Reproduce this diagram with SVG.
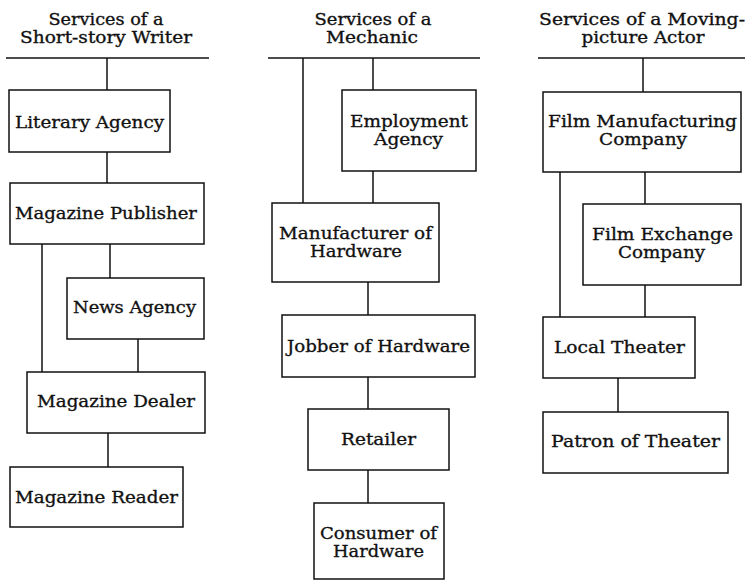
<svg xmlns="http://www.w3.org/2000/svg" width="746" height="581" viewBox="0 0 746 581">
  <style>
    .bg { fill: #ffffff; }
    .box { fill: #ffffff; stroke: #111111; stroke-width: 1.5; }
    .rule { stroke: #111111; stroke-width: 1.5; fill: none; }
    .wire { stroke: #111111; stroke-width: 1.5; fill: none; }
    text { font-family: "DejaVu Serif", "Liberation Serif", serif; fill: #111111; stroke: #111111; stroke-width: 0.35; text-anchor: middle; }
    .hd { font-size: 17px; }
    .lb { font-size: 17.5px; }
  </style>
  <rect class="bg" x="0" y="0" width="746" height="581"/>

  <!-- column headings with their rules -->
  <g id="header-writer">
    <text class="hd" x="106" y="25" textLength="115" lengthAdjust="spacingAndGlyphs">Services of a</text>
    <text class="hd" x="106" y="43" textLength="172" lengthAdjust="spacingAndGlyphs">Short-story Writer</text>
    <line class="rule" x1="6" y1="58" x2="209" y2="58"/>
  </g>
  <g id="header-mechanic">
    <text class="hd" x="373" y="25" textLength="117" lengthAdjust="spacingAndGlyphs">Services of a</text>
    <text class="hd" x="372" y="43" textLength="92" lengthAdjust="spacingAndGlyphs">Mechanic</text>
    <line class="rule" x1="268" y1="58" x2="480" y2="58"/>
  </g>
  <g id="header-actor">
    <text class="hd" x="642" y="25" textLength="206" lengthAdjust="spacingAndGlyphs">Services of a Moving-</text>
    <text class="hd" x="643" y="43" textLength="123" lengthAdjust="spacingAndGlyphs">picture Actor</text>
    <line class="rule" x1="538" y1="58" x2="745" y2="58"/>
  </g>

  <!-- connectors -->
  <g id="connectors">
    <!-- writer column -->
    <line class="wire" x1="107" y1="58" x2="107" y2="90"/>
    <line class="wire" x1="107" y1="152" x2="107" y2="183"/>
    <line class="wire" x1="42" y1="244" x2="42" y2="372"/>
    <line class="wire" x1="110" y1="244" x2="110" y2="278"/>
    <line class="wire" x1="138" y1="339" x2="138" y2="372"/>
    <line class="wire" x1="108" y1="433" x2="108" y2="467"/>
    <!-- mechanic column -->
    <line class="wire" x1="303" y1="58" x2="303" y2="203"/>
    <line class="wire" x1="373" y1="58" x2="373" y2="90"/>
    <line class="wire" x1="373" y1="171" x2="373" y2="203"/>
    <line class="wire" x1="368" y1="282" x2="368" y2="315"/>
    <line class="wire" x1="368" y1="377" x2="368" y2="409"/>
    <line class="wire" x1="368" y1="470" x2="368" y2="503"/>
    <!-- actor column -->
    <line class="wire" x1="643" y1="58" x2="643" y2="92"/>
    <line class="wire" x1="560" y1="172" x2="560" y2="317"/>
    <line class="wire" x1="645" y1="172" x2="645" y2="204"/>
    <line class="wire" x1="645" y1="285" x2="645" y2="317"/>
    <line class="wire" x1="618" y1="378" x2="618" y2="412"/>
  </g>

  <!-- writer column nodes -->
  <g id="literary-agency">
    <rect class="box" x="9" y="90" width="161" height="62"/>
    <text class="lb" x="89.5" y="128" textLength="149" lengthAdjust="spacingAndGlyphs">Literary Agency</text>
  </g>
  <g id="magazine-publisher">
    <rect class="box" x="10" y="183" width="194" height="61"/>
    <text class="lb" x="106" y="219" textLength="182" lengthAdjust="spacingAndGlyphs">Magazine Publisher</text>
  </g>
  <g id="news-agency">
    <rect class="box" x="67" y="278" width="137" height="61"/>
    <text class="lb" x="134.5" y="313" textLength="123" lengthAdjust="spacingAndGlyphs">News Agency</text>
  </g>
  <g id="magazine-dealer">
    <rect class="box" x="27" y="372" width="178" height="61"/>
    <text class="lb" x="116" y="407" textLength="158" lengthAdjust="spacingAndGlyphs">Magazine Dealer</text>
  </g>
  <g id="magazine-reader">
    <rect class="box" x="10" y="467" width="173" height="60"/>
    <text class="lb" x="96.5" y="503" textLength="163" lengthAdjust="spacingAndGlyphs">Magazine Reader</text>
  </g>

  <!-- mechanic column nodes -->
  <g id="employment-agency">
    <rect class="box" x="342" y="90" width="134" height="81"/>
    <text class="lb" x="409" y="127" textLength="118" lengthAdjust="spacingAndGlyphs">Employment</text>
    <text class="lb" x="408.5" y="145" textLength="69" lengthAdjust="spacingAndGlyphs">Agency</text>
  </g>
  <g id="manufacturer-of-hardware">
    <rect class="box" x="272" y="203" width="167" height="79"/>
    <text class="lb" x="355.5" y="239" textLength="153" lengthAdjust="spacingAndGlyphs">Manufacturer of</text>
    <text class="lb" x="356" y="257" textLength="92" lengthAdjust="spacingAndGlyphs">Hardware</text>
  </g>
  <g id="jobber-of-hardware">
    <rect class="box" x="282" y="315" width="193" height="62"/>
    <text class="lb" x="378.5" y="352" textLength="183" lengthAdjust="spacingAndGlyphs">Jobber of Hardware</text>
  </g>
  <g id="retailer">
    <rect class="box" x="308" y="409" width="141" height="61"/>
    <text class="lb" x="378.5" y="445" textLength="75" lengthAdjust="spacingAndGlyphs">Retailer</text>
  </g>
  <g id="consumer-of-hardware">
    <rect class="box" x="314" y="503" width="130" height="76"/>
    <text class="lb" x="378.5" y="539" textLength="117" lengthAdjust="spacingAndGlyphs">Consumer of</text>
    <text class="lb" x="378.5" y="557" textLength="91" lengthAdjust="spacingAndGlyphs">Hardware</text>
  </g>

  <!-- actor column nodes -->
  <g id="film-manufacturing-company">
    <rect class="box" x="543" y="92" width="198" height="80"/>
    <text class="lb" x="642.5" y="127" textLength="189" lengthAdjust="spacingAndGlyphs">Film Manufacturing</text>
    <text class="lb" x="643" y="145" textLength="88" lengthAdjust="spacingAndGlyphs">Company</text>
  </g>
  <g id="film-exchange-company">
    <rect class="box" x="583" y="204" width="158" height="81"/>
    <text class="lb" x="662.5" y="240" textLength="141" lengthAdjust="spacingAndGlyphs">Film Exchange</text>
    <text class="lb" x="661.5" y="258" textLength="87" lengthAdjust="spacingAndGlyphs">Company</text>
  </g>
  <g id="local-theater">
    <rect class="box" x="543" y="317" width="152" height="61"/>
    <text class="lb" x="619.5" y="353" textLength="131" lengthAdjust="spacingAndGlyphs">Local Theater</text>
  </g>
  <g id="patron-of-theater">
    <rect class="box" x="543" y="412" width="185" height="61"/>
    <text class="lb" x="635.5" y="447" textLength="169" lengthAdjust="spacingAndGlyphs">Patron of Theater</text>
  </g>
</svg>
